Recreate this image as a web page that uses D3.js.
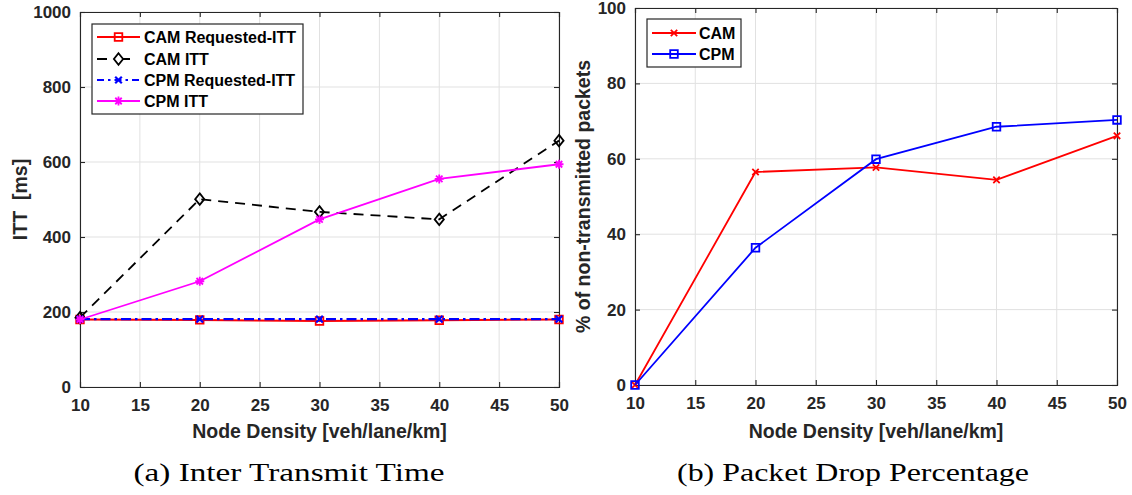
<!DOCTYPE html>
<html><head><meta charset="utf-8">
<script src="https://cdn.jsdelivr.net/npm/d3@7"></script>
<style>body{margin:0;background:#fff}svg{display:block}</style>
</head><body><svg id="c" width="1132" height="495"></svg>
<script>
// ---- data ----
const density = [10, 20, 30, 40, 50];
const camReqITT = [180, 179, 176, 178, 180];
const camITT = [185, 501, 467, 447, 657];
const cpmReqITT = [181, 181, 181, 181, 181];
const cpmITT = [180, 282, 447, 555, 594];
const camDrop = [0, 56.5, 57.7, 54.4, 66.1];
const cpmDrop = [0, 36.4, 59.9, 68.5, 70.3];
const xTicks = [10, 15, 20, 25, 30, 35, 40, 45, 50];
const ittTicks = [0, 200, 400, 600, 800, 1000];
const dropTicks = [0, 20, 40, 60, 80, 100];
const leftSeriesNames = ["CAM Requested-ITT", "CAM ITT", "CPM Requested-ITT", "CPM ITT"];
const rightSeriesNames = ["CAM", "CPM"];
const xLabel = "Node Density [veh/lane/km]";
const leftYLabel = "ITT  [ms]";
const rightYLabel = "% of non-transmitted packets";
const captions = ["(a) Inter Transmit Time", "(b) Packet Drop Percentage"];

// ---- helpers ----
const svg = d3.select("#c");
const AX = "#262626";
const FONT = "'Liberation Sans', Arial, Helvetica, sans-serif";

function markerPath(type, s) {
  switch (type) {
    case "square": return `M${-s},${-s}H${s}V${s}H${-s}Z`;
    case "diamond": return `M0,${-s*1.25}L${s},0L0,${s*1.25}L${-s},0Z`;
    case "x": return `M${-s},${-s}L${s},${s}M${-s},${s}L${s},${-s}`;
    case "asterisk": {
      const d = s * 0.72;
      return `M${-s},0H${s}M0,${-s}V${s}M${-d},${-d}L${d},${d}M${-d},${d}L${d},${-d}`;
    }
  }
}

function panel(o) {
  const x = d3.scaleLinear().domain([10, 50]).range([o.x0, o.x1]);
  const y = d3.scaleLinear().domain(o.yDomain).range([o.y1, o.y0]);
  const g = svg.append("g");

  // grid
  g.append("g").selectAll("line").data(xTicks).join("line")
    .attr("x1", d => x(d)).attr("x2", d => x(d)).attr("y1", o.y0).attr("y2", o.y1)
    .attr("stroke", "#e1e1e1").attr("stroke-width", 1);
  g.append("g").selectAll("line").data(o.yTicks).join("line")
    .attr("y1", d => y(d)).attr("y2", d => y(d)).attr("x1", o.x0).attr("x2", o.x1)
    .attr("stroke", "#e1e1e1").attr("stroke-width", 1);

  // axes (inward ticks, all four sides)
  const tl = 5;
  const fmt = d3.format("d");
  const ax = [
    g.append("g").attr("transform", `translate(0,${o.y1})`).call(d3.axisBottom(x).tickValues(xTicks).tickSize(-tl).tickPadding(10).tickFormat(fmt)),
    g.append("g").attr("transform", `translate(0,${o.y0})`).call(d3.axisTop(x).tickValues(xTicks).tickSize(-tl).tickFormat("")),
    g.append("g").attr("transform", `translate(${o.x0},0)`).call(d3.axisLeft(y).tickValues(o.yTicks).tickSize(-tl).tickPadding(9).tickFormat(fmt)),
    g.append("g").attr("transform", `translate(${o.x1},0)`).call(d3.axisRight(y).tickValues(o.yTicks).tickSize(-tl).tickFormat(""))
  ];
  ax.forEach(a => {
    a.select(".domain").attr("stroke", AX).attr("stroke-width", 1.1);
    a.selectAll(".tick line").attr("stroke", AX).attr("stroke-width", 1.1);
    a.selectAll(".tick text").attr("fill", AX).style("font-family", FONT)
      .style("font-weight", "bold").style("font-size", "17px");
  });
  ax[0].selectAll(".tick text").attr("dy", "0.8em");

  // axis labels
  g.append("text").attr("x", (o.x0 + o.x1) / 2).attr("y", 438)
    .attr("text-anchor", "middle").attr("fill", AX)
    .style("font-family", FONT).style("font-weight", "bold").style("font-size", "19.5px")
    .text(xLabel);
  g.append("text").attr("transform", `translate(${o.ylabX},${(o.y0 + o.y1) / 2}) rotate(-90)`)
    .attr("text-anchor", "middle").attr("fill", AX)
    .style("font-family", FONT).style("font-weight", "bold").style("font-size", "19.5px")
    .style("white-space", "pre").attr("xml:space", "preserve")
    .text(o.ylabel);

  // series
  const line = d3.line().x((d, i) => x(density[i])).y(d => y(d));
  o.series.forEach(s => {
    g.append("path").datum(s.values).attr("d", line)
      .attr("fill", "none").attr("stroke", s.color).attr("stroke-width", s.width || 1.8)
      .attr("stroke-dasharray", s.dash || null);
    g.append("g").selectAll("path").data(s.values).join("path")
      .attr("transform", (d, i) => `translate(${x(density[i])},${y(d)})`)
      .attr("d", markerPath(s.marker, s.msize))
      .attr("fill", "none").attr("stroke", s.color).attr("stroke-width", s.mwidth || 1.8);
  });

  // legend
  const L = o.legend;
  const lg = g.append("g");
  lg.append("rect").attr("x", L.x).attr("y", L.y).attr("width", L.w).attr("height", L.h)
    .attr("fill", "#fff").attr("stroke", AX).attr("stroke-width", 1.2);
  o.series.forEach((s, i) => {
    const yy = L.rows[i];
    lg.append("line").attr("x1", L.lx0).attr("x2", L.lx1).attr("y1", yy).attr("y2", yy)
      .attr("stroke", s.color).attr("stroke-width", s.width || 1.8)
      .attr("stroke-dasharray", s.legDash || s.dash || null);
    lg.append("path").attr("transform", `translate(${(L.lx0 + L.lx1) / 2},${yy})`)
      .attr("d", markerPath(s.marker, s.msize)).attr("fill", s.marker === "diamond" ? "#fff" : "none")
      .attr("stroke", s.color).attr("stroke-width", s.mwidth || 1.8);
    lg.append("text").attr("x", L.tx).attr("y", yy).attr("dy", "0.36em")
      .attr("fill", "#000").style("font-family", FONT).style("font-weight", "bold").style("font-size", "16px")
      .text(s.name);
  });
}

panel({
  x0: 80, x1: 559, y0: 12, y1: 387, yDomain: [0, 1000], yTicks: ittTicks,
  ylabel: leftYLabel, ylabX: 27,
  series: [
    { name: leftSeriesNames[0], values: camReqITT, color: "#ff0000", marker: "square", msize: 3.8, width: 2 },
    { name: leftSeriesNames[1], values: camITT, color: "#000000", marker: "diamond", msize: 4.6, dash: "10,7", legDash: "10,13", width: 1.8 },
    { name: leftSeriesNames[2], values: cpmReqITT, color: "#0000ff", marker: "x", msize: 3.3, dash: "10,4,2.5,4", legDash: "7,4,2.5,4", width: 2.2, mwidth: 2.2 },
    { name: leftSeriesNames[3], values: cpmITT, color: "#ff00ff", marker: "asterisk", msize: 4.5, width: 1.8 }
  ],
  legend: { x: 92, y: 24, w: 211, h: 90, rows: [37, 59, 80, 101], lx0: 97, lx1: 140, tx: 144 }
});

panel({
  x0: 635, x1: 1117, y0: 8, y1: 385, yDomain: [0, 100], yTicks: dropTicks,
  ylabel: rightYLabel, ylabX: 590,
  series: [
    { name: rightSeriesNames[0], values: camDrop, color: "#ff0000", marker: "x", msize: 3.2, width: 1.8 },
    { name: rightSeriesNames[1], values: cpmDrop, color: "#0000ff", marker: "square", msize: 3.8, width: 1.8 }
  ],
  legend: { x: 647, y: 19, w: 94, h: 48, rows: [33, 54], lx0: 652, lx1: 696, tx: 699 }
});

// captions
[[289, captions[0], 311], [853, captions[1], 352]].forEach(([cx, t, w]) => {
  svg.append("text").attr("x", cx).attr("y", 481).attr("text-anchor", "middle")
    .attr("textLength", w).attr("lengthAdjust", "spacingAndGlyphs")
    .style("font-family", "'Liberation Serif', 'DejaVu Serif', serif").style("font-size", "25px")
    .attr("fill", "#000").text(t);
});
</script>
</body></html>
